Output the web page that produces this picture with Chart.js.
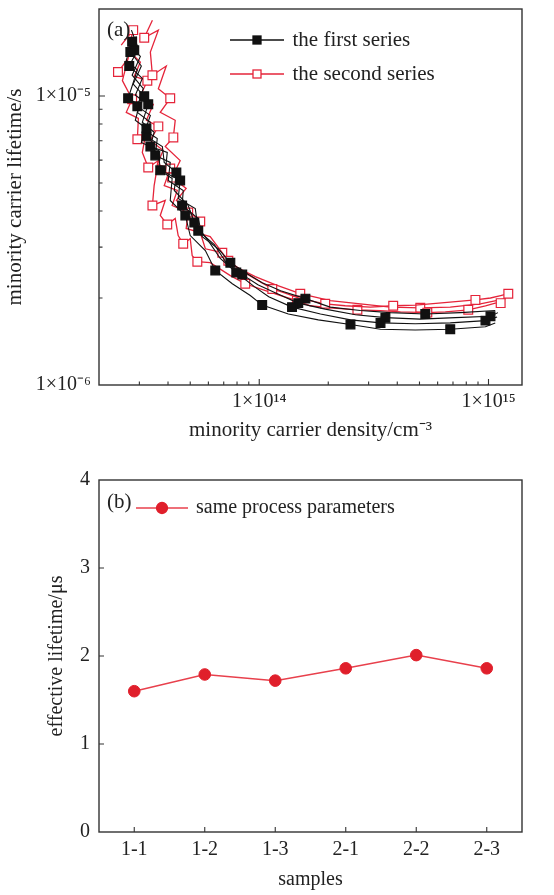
<!DOCTYPE html>
<html><head><meta charset="utf-8">
<script src="https://cdn.jsdelivr.net/npm/chart.js@4.4.1/dist/chart.umd.min.js"></script>
<style>
html,body{margin:0;padding:0;background:#fff;width:554px;height:895px;overflow:hidden}
.wrap{position:absolute;left:0;width:554px}
#wa{top:0;height:450px}
#wb{top:450px;height:445px}
.tag{position:absolute;font-family:"Liberation Serif","Times New Roman",serif;font-size:21px;color:#222;line-height:1}
</style></head><body>
<div id="wa" class="wrap"><canvas id="ca"></canvas></div>
<div id="wb" class="wrap"><canvas id="cb"></canvas></div>
<div class="tag" style="left:107px;top:19px">(a)</div>
<div class="tag" style="left:107px;top:491px">(b)</div>
<script>
// ---------- data : panel (a) ----------
const seriesNames = ['the first series', 'the second series'];
const densityMin = 2e13, densityMax = 1.4e15;
const lifetimeMin = 1e-6, lifetimeMax = 2e-5;
const densityTickValues = [1e14, 1e15];
const densityTickLabels = ['1×10¹⁴', '1×10¹⁵'];
const lifetimeTickValues = [1e-6, 1e-5];
const lifetimeTickLabels = ['1×10⁻⁶', '1×10⁻⁵'];

const first1Density = [2.79e13,2.63e13,2.94e13,2.68e13,3.00e13,2.88e13,3.22e13,3.06e13,3.63e13,3.70e13,4.17e13,4.09e13,4.76e13,5.00e13,5.82e13,6.43e13,7.63e13,9.14e13,1.03e14,1.34e14,1.81e14,2.50e14,3.38e14,4.79e14,6.81e14,9.70e14,1.07e15];
const first1Lifetime = [1.54e-5,1.33e-5,1.23e-5,9.82e-6,9.29e-6,8.24e-6,7.72e-6,6.91e-6,6.48e-6,5.53e-6,5.18e-6,4.35e-6,3.86e-6,3.29e-6,2.92e-6,2.49e-6,2.24e-6,2.04e-6,1.89e-6,1.76e-6,1.68e-6,1.62e-6,1.56e-6,1.55e-6,1.56e-6,1.59e-6,1.64e-6];
const first2Density = [2.91e13,2.74e13,3.06e13,2.82e13,3.15e13,2.94e13,3.35e13,3.22e13,3.78e13,3.85e13,4.35e13,4.26e13,4.90e13,5.21e13,5.99e13,6.76e13,7.94e13,9.52e13,1.10e14,1.39e14,1.85e14,2.50e14,3.38e14,4.79e14,6.81e14,9.70e14,1.09e15];
const first2Lifetime = [1.61e-5,1.42e-5,1.27e-5,1.10e-5,9.98e-6,8.78e-6,8.11e-6,7.25e-6,6.69e-6,5.89e-6,5.44e-6,4.71e-6,4.18e-6,3.65e-6,3.16e-6,2.74e-6,2.45e-6,2.19e-6,2.02e-6,1.86e-6,1.76e-6,1.68e-6,1.64e-6,1.63e-6,1.64e-6,1.67e-6,1.72e-6];
const first3Density = [2.77e13,2.97e13,2.71e13,3.09e13,2.88e13,3.28e13,3.09e13,3.48e13,3.35e13,3.97e13,3.89e13,4.52e13,4.43e13,5.26e13,5.42e13,6.37e13,7.18e13,8.43e13,9.91e13,1.18e14,1.48e14,1.94e14,2.63e14,3.55e14,5.04e14,7.17e14,1.02e15,1.10e15];
const first3Lifetime = [1.69e-5,1.46e-5,1.27e-5,1.15e-5,1.006e-5,9.36e-6,8.11e-6,7.49e-6,6.69e-6,6.38e-6,5.44e-6,5.10e-6,4.42e-6,4.08e-6,3.42e-6,3.06e-6,2.65e-6,2.41e-6,2.22e-6,2.08e-6,1.92e-6,1.83e-6,1.75e-6,1.71e-6,1.69e-6,1.71e-6,1.73e-6,1.78e-6];
const first4Density = [2.85e13,3.03e13,2.79e13,3.12e13,2.94e13,3.35e13,3.18e13,3.59e13,3.52e13,4.09e13,4.01e13,4.66e13,4.61e13,5.42e13,5.64e13,6.63e13,7.48e13,8.69e13,1.03e14,1.24e14,1.59e14,2.04e14,2.76e14,3.73e14,5.30e14,7.54e14,1.07e15];
const first4Lifetime = [1.44e-5,1.37e-5,1.18e-5,1.06e-5,9.21e-6,8.57e-6,7.60e-6,7.13e-6,6.23e-6,5.89e-6,5.10e-6,4.71e-6,4.18e-6,3.77e-6,3.26e-6,2.96e-6,2.65e-6,2.45e-6,2.26e-6,2.12e-6,1.99e-6,1.86e-6,1.81e-6,1.78e-6,1.76e-6,1.78e-6,1.81e-6];

const second1Density = [3.42e13,3.15e13,3.63e13,3.35e13,3.42e13,3.93e13,3.63e13,4.09e13,3.70e13,4.30e13,4.22e13,3.89e13,4.52e13,4.17e13,4.80e13,4.35e13,5.53e13,5.31e13,6.11e13,7.33e13,7.94e13,8.60e13,1.14e14,1.30e14,1.51e14,1.94e14,2.37e14,3.05e14,3.84e14,4.79e14,5.57e14,8.77e14,1.02e15,1.13e15,1.22e15];
const second1Lifetime = [1.83e-5,1.59e-5,1.69e-5,1.42e-5,1.18e-5,1.27e-5,1.06e-5,9.82e-6,8.78e-6,8.24e-6,7.19e-6,6.69e-6,5.98e-6,5.22e-6,4.79e-6,4.35e-6,3.68e-6,3.37e-6,3.26e-6,2.69e-6,2.57e-6,2.45e-6,2.15e-6,2.08e-6,1.99e-6,1.91e-6,1.88e-6,1.86e-6,1.88e-6,1.89e-6,1.91e-6,1.97e-6,2.00e-6,2.04e-6,2.07e-6];
const second2Density = [2.42e13,2.68e13,2.53e13,2.79e13,2.63e13,2.97e13,2.94e13,3.22e13,3.09e13,3.28e13,3.63e13,3.48e13,3.42e13,3.89e13,3.70e13,3.97e13,4.30e13,4.43e13,4.66e13,5.00e13,5.10e13,5.37e13,6.11e13,7.48e13,8.69e13,1.01e14,1.24e14,1.46e14,1.67e14,2.04e14,2.68e14,3.38e14,4.13e14,5.41e14,6.48e14,7.54e14,8.16e14,9.70e14,1.07e15,1.13e15];
const second2Lifetime = [1.21e-5,1.35e-5,1.13e-5,9.74e-6,8.78e-6,8.37e-6,7.08e-6,7.60e-6,6.38e-6,5.66e-6,5.98e-6,4.90e-6,4.18e-6,4.35e-6,3.86e-6,3.59e-6,3.77e-6,3.29e-6,3.08e-6,3.21e-6,2.80e-6,2.67e-6,2.65e-6,2.39e-6,2.24e-6,2.15e-6,2.04e-6,1.96e-6,1.88e-6,1.85e-6,1.82e-6,1.81e-6,1.79e-6,1.78e-6,1.79e-6,1.81e-6,1.82e-6,1.88e-6,1.92e-6,1.92e-6];
const second3Density = [2.50e13,2.82e13,2.68e13,3.03e13,2.85e13,3.25e13,3.00e13,3.45e13,3.22e13,3.63e13,3.35e13,3.81e13,3.59e13,4.09e13,3.85e13,4.39e13,4.17e13,4.90e13,4.80e13,5.53e13,5.82e13,6.90e13,7.86e13,9.61e13,1.18e14,1.51e14,2.04e14,2.76e14,3.73e14,5.04e14,6.81e14,9.22e14,1.19e15];
const second3Lifetime = [1.50e-5,1.69e-5,1.44e-5,1.31e-5,1.17e-5,1.13e-5,9.82e-6,9.36e-6,8.24e-6,7.85e-6,7.02e-6,6.48e-6,5.80e-6,5.61e-6,4.90e-6,4.71e-6,4.18e-6,3.95e-6,3.48e-6,3.37e-6,2.96e-6,2.87e-6,2.57e-6,2.37e-6,2.22e-6,2.07e-6,1.96e-6,1.91e-6,1.86e-6,1.85e-6,1.86e-6,1.91e-6,1.99e-6];

// ---------- data : panel (b) ----------
const samples = ['1-1', '1-2', '1-3', '2-1', '2-2', '2-3'];
const effectiveLifetime = [1.60, 1.79, 1.72, 1.86, 2.01, 1.86];
const seriesNameB = 'same process parameters';

// ---------- style ----------
const SERIF = '"Liberation Serif", "Times New Roman", serif';
const TXT = '#222';
const BLACK = '#111';
const RED = '#e5243a';
const RED_B = '#e01f2b';

function legendImg(w, h, lineColor, fill, stroke, shape, size) {
  const c = document.createElement('canvas');
  c.width = w; c.height = h;
  const g = c.getContext('2d');
  g.strokeStyle = lineColor; g.lineWidth = 1.6;
  g.beginPath(); g.moveTo(0, h / 2); g.lineTo(w, h / 2); g.stroke();
  g.fillStyle = fill; g.strokeStyle = stroke; g.lineWidth = 1.3;
  if (shape === 'rect') {
    g.fillRect(w / 2 - size / 2, h / 2 - size / 2, size, size);
    g.strokeRect(w / 2 - size / 2, h / 2 - size / 2, size, size);
  } else {
    g.beginPath(); g.arc(w / 2, h / 2, size / 2, 0, Math.PI * 2); g.fill(); g.stroke();
  }
  return c;
}

const legendPlace = {
  id: 'legendPlace',
  afterUpdate(chart, args, opts) {
    const lg = chart.legend; if (!lg) return;
    lg.left = opts.x; lg.top = opts.y;
    lg.width = 400; lg.height = 140;
    lg.right = opts.x + 400; lg.bottom = opts.y + 140;
  }
};

const frameTicks = {
  id: 'frameTicks',
  afterDraw(chart, args, opts) {
    const {ctx, chartArea: a} = chart;
    const xs = chart.scales.x, ys = chart.scales.y;
    const sig = (v) => v / Math.pow(10, Math.floor(Math.log10(v) + 1e-9));
    const isMaj = (v) => !opts.log || Math.abs(sig(v) - 1) < 1e-6;
    const keep = (v) => !opts.log || Math.abs(sig(v) - Math.round(sig(v))) < 1e-6;
    ctx.save();
    ctx.strokeStyle = opts.color;
    ctx.lineWidth = opts.tickWidth;
    ctx.beginPath();
    xs.ticks.forEach((t, i) => {
      if (!keep(t.value)) return;
      const p = opts.log ? xs.getPixelForValue(t.value) : xs.getPixelForTick(i);
      if (p <= a.left + 1 || p >= a.right - 1) return;
      const len = isMaj(t.value) ? opts.major : opts.minor;
      ctx.moveTo(p, a.bottom); ctx.lineTo(p, a.bottom - len);
    });
    ys.ticks.forEach((t) => {
      if (!keep(t.value)) return;
      const p = ys.getPixelForValue(t.value);
      if (p <= a.top + 1 || p >= a.bottom - 1) return;
      const len = isMaj(t.value) ? opts.major : opts.minor;
      ctx.moveTo(a.left, p); ctx.lineTo(a.left + len, p);
    });
    ctx.stroke();
    ctx.lineWidth = opts.width;
    ctx.strokeRect(a.left, a.top, a.right - a.left, a.bottom - a.top);
    ctx.restore();
  }
};

// ---------- panel (a) ----------
const curvesA = [
  [first1Density, first1Lifetime, 0],
  [first2Density, first2Lifetime, 0],
  [first3Density, first3Lifetime, 0],
  [first4Density, first4Lifetime, 0],
  [second1Density, second1Lifetime, 1],
  [second2Density, second2Lifetime, 1],
  [second3Density, second3Lifetime, 1]
];
const markA = [[0, 3], [1, 3], [2, 3], [0, 4], [1, 3], [0, 3], [1, 4]];
const legendImgsA = {
  0: legendImg(54, 14, BLACK, BLACK, BLACK, 'rect', 8),
  4: legendImg(54, 14, RED, '#fff', RED, 'rect', 8)
};

const datasetsA = curvesA.map(([xs, ys, s]) => ({
  label: seriesNames[s],
  data: xs.map((x, i) => ({x, y: ys[i]})),
  showLine: true,
  borderColor: s === 0 ? BLACK : RED,
  borderWidth: s === 0 ? 1.1 : 1.3,
  pointStyle: 'rect',
  pointBackgroundColor: s === 0 ? BLACK : '#fff',
  pointBorderColor: s === 0 ? BLACK : RED,
  pointBorderWidth: 1.2,
  pointRadius: (c) => {
    const m = markA[c.datasetIndex];
    if (!m || c.index === undefined) return 0;
    return (c.index >= m[0] && (c.index - m[0]) % m[1] === 0) ? 6.2 : 0;
  },
  pointHoverRadius: 0
}));

const logLabel = (vals, labs) => (v) => {
  const i = vals.findIndex(t => Math.abs(t - v) / t < 1e-6);
  return i >= 0 ? labs[i] : '';
};
const noEdgePad = (s) => { s.paddingTop = 0; s.paddingBottom = 0; s.paddingLeft = 0; s.paddingRight = 0; };

new Chart(document.getElementById('ca'), {
  type: 'scatter',
  data: {datasets: datasetsA},
  options: {
    responsive: true, maintainAspectRatio: false, animation: false,
    layout: {padding: {top: 9, right: 32, left: 0, bottom: 0}},
    plugins: {
      tooltip: {enabled: false},
      legend: {
        position: 'chartArea', align: 'start',
        labels: {
          usePointStyle: true, pointStyleWidth: 50, padding: 13,
          font: {family: SERIF, size: 21}, color: TXT,
          generateLabels(chart) {
            const items = Chart.defaults.plugins.legend.labels.generateLabels(chart);
            return items.filter(it => legendImgsA[it.datasetIndex])
              .map(it => Object.assign(it, {pointStyle: legendImgsA[it.datasetIndex], fontColor: TXT}));
          }
        }
      },
      legendPlace: {x: 219, y: 16.5},
      frameTicks: {color: '#333', width: 1.4, tickWidth: 1.1, major: 6, minor: 3.5, log: true}
    },
    scales: {
      x: {
        type: 'logarithmic', min: densityMin, max: densityMax,
        afterFit(s) { s.height = 65; noEdgePad(s); },
        grid: {display: false, drawTicks: false}, border: {display: false},
        ticks: {autoSkip: false, maxRotation: 0, padding: 5, font: {family: SERIF, size: 20}, color: TXT,
          callback: logLabel(densityTickValues, densityTickLabels)},
        title: {display: true, text: 'minority carrier density/cm⁻³', font: {family: SERIF, size: 21, lineHeight: 1.2}, color: TXT, padding: {top: 0, bottom: 7}}
      },
      y: {
        type: 'logarithmic', min: lifetimeMin, max: lifetimeMax,
        afterFit(s) { s.width = 99; noEdgePad(s); },
        grid: {display: false, drawTicks: false}, border: {display: false},
        ticks: {autoSkip: false, padding: 8, font: {family: SERIF, size: 20}, color: TXT,
          callback: logLabel(lifetimeTickValues, lifetimeTickLabels)},
        title: {display: true, text: 'minority carrier lifetime/s', font: {family: SERIF, size: 21, lineHeight: 1.2}, color: TXT, padding: {top: 3, bottom: 0}}
      }
    }
  },
  plugins: [legendPlace, frameTicks]
});

// ---------- panel (b) ----------
const legendImgB = legendImg(52, 14, '#e8404c', RED_B, RED_B, 'circle', 11);

new Chart(document.getElementById('cb'), {
  type: 'line',
  data: {
    labels: samples,
    datasets: [{
      label: seriesNameB,
      data: effectiveLifetime,
      borderColor: '#e8404c', borderWidth: 1.5,
      pointStyle: 'circle', pointRadius: 5.8, pointHoverRadius: 5.8,
      pointBackgroundColor: RED_B, pointBorderColor: RED_B, pointBorderWidth: 1,
      tension: 0, fill: false
    }]
  },
  options: {
    responsive: true, maintainAspectRatio: false, animation: false,
    layout: {padding: {top: 30, right: 32, left: 0, bottom: 0}},
    plugins: {
      tooltip: {enabled: false},
      legend: {
        position: 'chartArea', align: 'start',
        labels: {
          usePointStyle: true, pointStyleWidth: 48, padding: 13,
          font: {family: SERIF, size: 20}, color: TXT,
          generateLabels(chart) {
            const items = Chart.defaults.plugins.legend.labels.generateLabels(chart);
            return items.map(it => Object.assign(it, {pointStyle: legendImgB, fontColor: TXT}));
          }
        }
      },
      legendPlace: {x: 125, y: 35},
      frameTicks: {color: '#333', width: 1.4, tickWidth: 1.1, major: 5, minor: 3, log: false}
    },
    scales: {
      x: {
        type: 'category', offset: true,
        afterFit(s) { s.height = 63; noEdgePad(s); },
        grid: {display: false, drawTicks: false, offset: true}, border: {display: false},
        ticks: {autoSkip: false, maxRotation: 0, padding: 6, font: {family: SERIF, size: 20}, color: TXT},
        title: {display: true, text: 'samples', font: {family: SERIF, size: 20, lineHeight: 1.2}, color: TXT, padding: {top: 0, bottom: 3}}
      },
      y: {
        min: 0, max: 4,
        afterFit(s) { s.width = 99; noEdgePad(s); },
        grid: {display: false, drawTicks: false}, border: {display: false},
        ticks: {stepSize: 1, padding: 9, font: {family: SERIF, size: 20}, color: TXT},
        title: {display: true, text: 'effective lifetime/μs', font: {family: SERIF, size: 20, lineHeight: 1.2}, color: TXT, padding: {top: 45, bottom: 0}}
      }
    }
  },
  plugins: [legendPlace, frameTicks]
});
</script>
</body></html>
